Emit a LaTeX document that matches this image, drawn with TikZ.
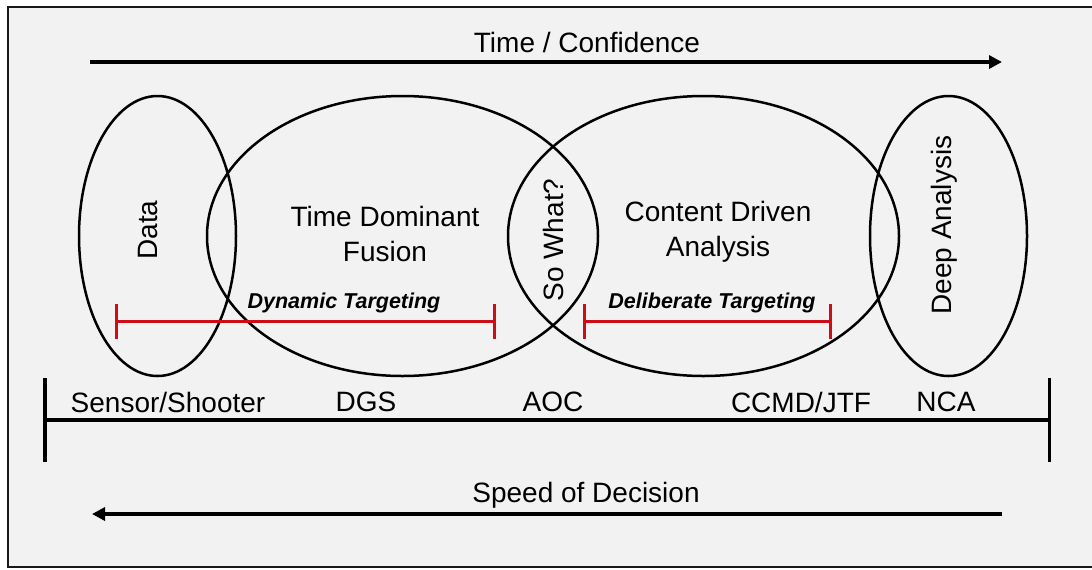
\documentclass[tikz,border=0pt]{standalone}
\usepackage{fontspec}
\setmainfont{Liberation Sans}
\usetikzlibrary{arrows.meta}
\newlength{\du}
\setlength{\du}{0.5pt}

\begin{document}
\begin{tikzpicture}[
  bigtext/.style={inner sep=0pt,font=\fontsize{14}{17.5}\selectfont,align=center},
  spantext/.style={inner sep=0pt,font=\fontsize{10.75}{13}\selectfont\bfseries\itshape},
  sidetext/.style={bigtext,rotate=90}]
\pgftransformxscale{1.000000}
\pgftransformyscale{-1.000000}
\useasboundingbox (0\du,0\du) rectangle (1092\du,569\du);
\definecolor{dialinecolor}{rgb}{1.000000, 1.000000, 1.000000}
\fill[dialinecolor] (0\du,0\du) rectangle (1092\du,569\du);
% frame
\definecolor{framefill}{rgb}{0.949000, 0.949000, 0.949000}
\definecolor{dialinecolor}{rgb}{0.100000, 0.100000, 0.100000}
\filldraw[fill=framefill,draw=dialinecolor,line width=2.000000\du] (8\du,7\du) rectangle (1100\du,567\du);
% ellipses
\definecolor{dialinecolor}{rgb}{0.000000, 0.000000, 0.000000}
\pgfsetstrokecolor{dialinecolor}
\pgfsetlinewidth{2.500000\du}
\pgfsetdash{}{0pt}
\pgfpathellipse{\pgfpoint{157.500000\du}{236.000000\du}}{\pgfpoint{78.500000\du}{0\du}}{\pgfpoint{0\du}{140.000000\du}}
\pgfusepath{stroke}
\pgfpathellipse{\pgfpoint{402.500000\du}{236.000000\du}}{\pgfpoint{195.500000\du}{0\du}}{\pgfpoint{0\du}{140.000000\du}}
\pgfusepath{stroke}
\pgfpathellipse{\pgfpoint{703.500000\du}{236.000000\du}}{\pgfpoint{195.500000\du}{0\du}}{\pgfpoint{0\du}{140.000000\du}}
\pgfusepath{stroke}
\pgfpathellipse{\pgfpoint{948.500000\du}{236.000000\du}}{\pgfpoint{78.500000\du}{0\du}}{\pgfpoint{0\du}{140.000000\du}}
\pgfusepath{stroke}
% texts in the ellipses
\node[sidetext] (data) at (148\du,230\du){Data};
\node[bigtext] (tdf) at (385\du,234\du){Time Dominant\\Fusion};
\node[sidetext] (sowhat) at (553\du,240\du){So What?};
\node[bigtext] (cda) at (718\du,232\du){Content Driven\\Analysis};
\node[sidetext] (deep) at (944\du,225\du){Deep Analysis};
% targeting spans
\definecolor{dialinecolor}{rgb}{0.800000, 0.050000, 0.090000}
\coordinate (dyn_a) at (115\du,321\du);
\coordinate (dyn_b) at (496\du,321\du);
\coordinate (del_a) at (583\du,321\du);
\coordinate (del_b) at (832\du,321\du);
\draw[dialinecolor,line width=3.000000\du,{Bar[width=17.5pt]}-{Bar[width=17.5pt]}] (dyn_a)--(dyn_b);
\draw[dialinecolor,line width=3.000000\du,{Bar[width=17.5pt]}-{Bar[width=17.5pt]}] (del_a)--(del_b);
\node[spantext] (dynlabel) at (344\du,303\du){Dynamic Targeting};
\node[spantext] (dellabel) at (712\du,303\du){Deliberate Targeting};
% time / confidence
\definecolor{dialinecolor}{rgb}{0.000000, 0.000000, 0.000000}
\node[bigtext] (timeconf) at (587\du,42\du){Time / Confidence};
\coordinate (tc_a) at (90\du,62\du);
\coordinate (tc_b) at (1002\du,62\du);
\draw[dialinecolor,line width=3.500000\du,-{Triangle[length=6.5pt,width=6.5pt]}] (tc_a)--(tc_b);
% echelons
\coordinate (ech_a) at (43\du,420\du);
\coordinate (ech_b) at (1051\du,420\du);
\draw[dialinecolor,line width=3.500000\du,{Bar[width=42pt]}-{Bar[width=42pt]}] (ech_a)--(ech_b);
\node[bigtext] (sensor) at (168\du,402\du){Sensor/Shooter};
\node[bigtext] (dgs) at (366\du,402\du){DGS};
\node[bigtext] (aoc) at (553\du,402\du){AOC};
\node[bigtext] (ccmd) at (801\du,402\du){CCMD/JTF};
\node[bigtext] (nca) at (946\du,402\du){NCA};
% speed of decision
\node[bigtext] (speed) at (586\du,495\du){Speed of Decision};
\coordinate (sd_a) at (1002\du,514\du);
\coordinate (sd_b) at (92\du,514\du);
\draw[dialinecolor,line width=3.500000\du,-{Triangle[length=6.5pt,width=6.5pt]}] (sd_a)--(sd_b);
\end{tikzpicture}
\end{document}
